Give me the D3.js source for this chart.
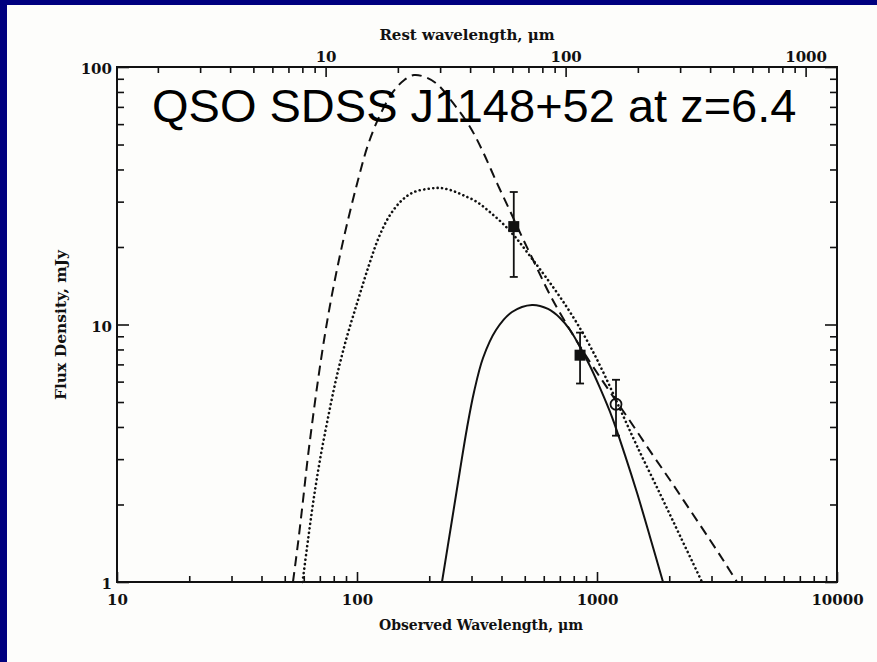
<!DOCTYPE html>
<html>
<head>
<meta charset="utf-8">
<script src="https://cdn.jsdelivr.net/npm/d3@7"></script>
<style>
  body { margin: 0; background: #00007f; }
  svg { display: block; }
</style>
</head>
<body>
<svg></svg>
<script>
const redshift = 6.4

const obsTicks = [10, 100, 1000, 10000]
const restTicks = [10, 100, 1000]
const fluxTicks = [1, 10, 100]

// dashed model
const dashedWave = [54.1, 57.0, 59.6, 62.2, 65.3, 68.8, 72.9, 77.9, 84.1, 91.7, 101, 111.1, 124.7, 141.3, 157, 172.8, 192, 215.4, 251.2, 295.7, 335, 383.1, 434.1, 487, 551.8, 637.3, 771.9, 935, 1133, 1372, 1662, 2014, 2441, 2957, 3415, 3831]
const dashedFlux = [1.0, 1.456, 2.082, 2.977, 4.257, 6.087, 8.705, 12.45, 17.8, 25.46, 36.4, 49.8, 65.1, 80.0, 88.8, 93.1, 91.4, 85.9, 72.5, 58.5, 46.8, 35.4, 27.6, 21.9, 17.18, 13.02, 9.52, 7.15, 5.47, 4.22, 3.23, 2.49, 1.904, 1.456, 1.185, 1.0]

// dotted model
const dottedWave = [59.3, 62.5, 65.9, 70.1, 75.4, 81.7, 90, 101, 112.2, 123.5, 137.2, 154, 172.8, 201.4, 221.7, 244.1, 276.5, 316.2, 358.4, 405.9, 459.8, 525.9, 607.4, 701.3, 809.8, 935, 1080, 1247, 1468, 1831, 2218, 2738]
const dottedFlux = [1.0, 1.456, 2.082, 2.977, 4.257, 6.087, 8.705, 12.45, 17.02, 21.9, 26.6, 30.4, 32.7, 33.7, 33.9, 33.3, 31.8, 29.9, 27.3, 24.6, 21.7, 18.45, 15.43, 12.79, 10.41, 8.25, 6.31, 4.7, 3.37, 2.2, 1.51, 1.0]

// solid model
const solidWave = [226, 248.8, 268.7, 287.3, 307.3, 335, 379.5, 442.5, 536, 625.1, 701.3, 771.9, 849.7, 935, 1029, 1155, 1308, 1468, 1662, 1884]
const solidFlux = [1.0, 1.741, 2.723, 3.965, 5.47, 7.41, 9.52, 11.18, 11.91, 11.49, 10.6, 9.52, 8.18, 6.9, 5.67, 4.37, 3.11, 2.22, 1.5, 1.0]

const pointWave = [450, 850, 1200]
const pointFlux = [24, 7.6, 4.9]
const pointErr = [8.7, 1.7, 1.2]
const pointOpen = [false, false, true]

const title = 'QSO SDSS J1148+52 at z=6.4'

const width = 877
const height = 662
const plotLeft = 117, plotRight = 837, plotTop = 67, plotBottom = 582
const labelFont = 'DejaVu Serif'

const svg = d3.select('svg')
  .attr('width', width)
  .attr('height', height)

svg.append('rect')
  .attr('width', width)
  .attr('height', height)
  .attr('fill', '#00007f')

svg.append('rect')
  .attr('x', 7)
  .attr('y', 5)
  .attr('width', width - 7)
  .attr('height', height - 5)
  .attr('fill', '#fdfdfb')

const x = d3.scaleLog().domain([10, 10000]).range([plotLeft, plotRight])
const xRest = d3.scaleLog().domain([10 / (1 + redshift), 10000 / (1 + redshift)]).range([plotLeft, plotRight])
const y = d3.scaleLog().domain([1, 100]).range([plotBottom, plotTop])

const minorOf = (scale, majors) => scale.ticks().filter(t => !majors.some(m => Math.abs(m - t) / m < 1e-6))

function styleAxis(g) {
  g.select('.domain').remove()
  g.selectAll('line').attr('stroke', '#111').attr('stroke-width', 1.6)
  g.selectAll('text')
    .attr('fill', '#111')
    .style('font-family', labelFont)
    .style('font-weight', 'bold')
    .style('font-size', '15px')
}

// bottom: observed wavelength
svg.append('g')
  .attr('transform', `translate(0,${plotBottom})`)
  .call(d3.axisBottom(x).tickValues(obsTicks).tickFormat(d3.format('d')).tickSize(-10).tickSizeOuter(0).tickPadding(12))
  .call(styleAxis)
svg.append('g')
  .attr('transform', `translate(0,${plotBottom})`)
  .call(d3.axisBottom(x).tickValues(minorOf(x, obsTicks)).tickFormat('').tickSize(-6).tickSizeOuter(0))
  .call(styleAxis)

// top: rest wavelength
svg.append('g')
  .attr('transform', `translate(0,${plotTop})`)
  .call(d3.axisTop(xRest).tickValues(restTicks).tickFormat(d3.format('d')).tickSize(-10).tickSizeOuter(0).tickPadding(5))
  .call(styleAxis)
svg.append('g')
  .attr('transform', `translate(0,${plotTop})`)
  .call(d3.axisTop(xRest).tickValues(minorOf(xRest, restTicks).filter(t => t > xRest.domain()[0])).tickFormat('').tickSize(-6).tickSizeOuter(0))
  .call(styleAxis)

// left and right: flux
svg.append('g')
  .attr('transform', `translate(${plotLeft},0)`)
  .call(d3.axisLeft(y).tickValues(fluxTicks).tickFormat(d3.format('d')).tickSize(-12).tickSizeOuter(0).tickPadding(5))
  .call(styleAxis)
  .call(g => g.selectAll('text').attr('dy', '0.45em'))
svg.append('g')
  .attr('transform', `translate(${plotLeft},0)`)
  .call(d3.axisLeft(y).tickValues(minorOf(y, fluxTicks)).tickFormat('').tickSize(-7).tickSizeOuter(0))
  .call(styleAxis)
svg.append('g')
  .attr('transform', `translate(${plotRight},0)`)
  .call(d3.axisRight(y).tickValues(fluxTicks).tickFormat('').tickSize(-12).tickSizeOuter(0))
  .call(styleAxis)
svg.append('g')
  .attr('transform', `translate(${plotRight},0)`)
  .call(d3.axisRight(y).tickValues(minorOf(y, fluxTicks)).tickFormat('').tickSize(-7).tickSizeOuter(0))
  .call(styleAxis)

svg.append('rect')
  .attr('x', plotLeft)
  .attr('y', plotTop)
  .attr('width', plotRight - plotLeft)
  .attr('height', plotBottom - plotTop)
  .attr('fill', 'none')
  .attr('stroke', '#111')
  .attr('stroke-width', 2)

// axis titles
const axisTitle = (tx, ty, text, size, rot) => svg.append('text')
  .attr('transform', `translate(${tx},${ty}) rotate(${rot || 0})`)
  .attr('text-anchor', 'middle')
  .attr('fill', '#111')
  .style('font-family', labelFont)
  .style('font-weight', 'bold')
  .style('font-size', size + 'px')
  .text(text)

axisTitle(481, 630, 'Observed Wavelength, μm', 14)
axisTitle(467, 40, 'Rest wavelength, μm', 15)
axisTitle(66, 325, 'Flux Density, mJy', 15.5, -90)

// model curves
const line = d3.line()
  .x(d => x(d[0]))
  .y(d => y(d[1]))
  .curve(d3.curveCatmullRom.alpha(0.5))

const curves = [
  { wave: dashedWave, flux: dashedFlux, dash: '10,6', cap: 'butt' },
  { wave: dottedWave, flux: dottedFlux, dash: '0.1,4.4', cap: 'round' },
  { wave: solidWave, flux: solidFlux, dash: null, cap: 'butt' },
]

svg.selectAll('path.model')
  .data(curves)
  .enter()
  .append('path')
  .attr('class', 'model')
  .attr('d', c => line(c.wave.map((w, i) => [w, c.flux[i]])))
  .attr('fill', 'none')
  .attr('stroke', '#111')
  .attr('stroke-width', c => c.cap === 'round' ? 2.6 : 2)
  .attr('stroke-linecap', c => c.cap)
  .attr('stroke-dasharray', c => c.dash)

// measurements
const points = pointWave.map((w, i) => ({ w, f: pointFlux[i], e: pointErr[i], open: pointOpen[i] }))

const bars = svg.selectAll('g.point')
  .data(points)
  .enter()
  .append('g')
  .attr('class', 'point')
  .attr('stroke', '#111')
  .attr('stroke-width', 1.8)

bars.append('line')
  .attr('x1', d => x(d.w)).attr('x2', d => x(d.w))
  .attr('y1', d => y(d.f + d.e)).attr('y2', d => y(d.f - d.e))
bars.append('line')
  .attr('x1', d => x(d.w) - 4).attr('x2', d => x(d.w) + 4)
  .attr('y1', d => y(d.f + d.e)).attr('y2', d => y(d.f + d.e))
bars.append('line')
  .attr('x1', d => x(d.w) - 4).attr('x2', d => x(d.w) + 4)
  .attr('y1', d => y(d.f - d.e)).attr('y2', d => y(d.f - d.e))

bars.filter(d => !d.open).append('rect')
  .attr('x', d => x(d.w) - 5.5)
  .attr('y', d => y(d.f) - 5.5)
  .attr('width', 11)
  .attr('height', 11)
  .attr('fill', '#111')
  .attr('stroke', 'none')

bars.filter(d => d.open).append('circle')
  .attr('cx', d => x(d.w))
  .attr('cy', d => y(d.f))
  .attr('r', 5.5)
  .attr('fill', 'none')

svg.append('text')
  .attr('x', 152)
  .attr('y', 122)
  .attr('fill', '#000')
  .style('font-family', 'Liberation Sans, Arial, sans-serif')
  .style('font-size', '47px')
  .text(title)
</script>
</body>
</html>
